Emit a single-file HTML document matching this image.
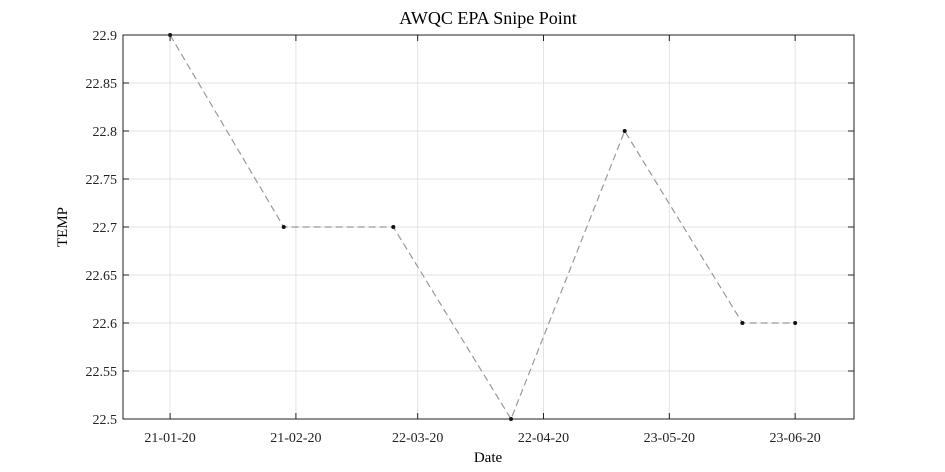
<!DOCTYPE html>
<html><head><meta charset="utf-8"><style>
html,body{margin:0;padding:0;background:#fff;}
svg{display:block;font-family:"Liberation Serif",serif;}
</style></head><body>
<svg id="chart" width="945" height="472">
<rect x="0" y="0" width="945" height="472" fill="#fff"/>
<text x="488" y="24" font-size="18" text-anchor="middle">AWQC EPA Snipe Point</text>
<text x="488" y="462" font-size="15" text-anchor="middle">Date</text>
<text transform="translate(67,227) rotate(-90)" font-size="15" text-anchor="middle">TEMP</text>
<g id="grid"></g><g id="series"></g><g id="axes"></g>
</svg>
<script>
const dates = ["2020-01-21","2020-02-18","2020-03-16","2020-04-14","2020-05-12","2020-06-10","2020-06-23"];
const temps = [22.9, 22.7, 22.7, 22.5, 22.8, 22.6, 22.6];
const xTickDates = ["2020-01-21","2020-02-21","2020-03-22","2020-04-22","2020-05-23","2020-06-23"];
const xTickLabels = ["21-01-20","21-02-20","22-03-20","22-04-20","23-05-20","23-06-20"];
const yTicks = [22.5,22.55,22.6,22.65,22.7,22.75,22.8,22.85,22.9];
const yTickLabels = ["22.5","22.55","22.6","22.65","22.7","22.75","22.8","22.85","22.9"];

const L=123,R=854,T=35,B=419;
const day=86400000, t0=Date.parse("2020-01-21");
const dMin=-11.6, dMax=168.5;
function xs(d){const v=(Date.parse(d)-t0)/day;return L+(v-dMin)/(dMax-dMin)*(R-L);}
function ys(v){return B-(v-22.5)/(0.4)*(B-T);}
const NS="http://www.w3.org/2000/svg";
function mk(tag,attrs,parent){const e=document.createElementNS(NS,tag);for(const k in attrs)e.setAttribute(k,attrs[k]);parent.appendChild(e);return e;}
const grid=document.getElementById('grid'),ser=document.getElementById('series'),ax=document.getElementById('axes');
yTicks.forEach((v,i)=>{
  const y=ys(v);
  const g=mk('line',{x1:L,x2:R,y1:y,y2:y,stroke:'#e3e3e3','stroke-width':1},grid);
  
  
  mk('line',{x1:L,x2:L+6,y1:y,y2:y,stroke:'#222'},ax);
  mk('line',{x1:R,x2:R-6,y1:y,y2:y,stroke:'#222'},ax);
  const t=mk('text',{x:L-6,y:y+5,'font-size':14,'text-anchor':'end',fill:'#222'},ax);
  t.textContent=yTickLabels[i];
  
  
});
xTickDates.forEach((d,i)=>{
  const x=xs(d);
  const g=mk('line',{x1:x,x2:x,y1:T,y2:B,stroke:'#e3e3e3','stroke-width':1},grid);
  
  
  mk('line',{x1:x,x2:x,y1:B,y2:B-6,stroke:'#222'},ax);
  mk('line',{x1:x,x2:x,y1:T,y2:T+6,stroke:'#222'},ax);
  const t=mk('text',{x:x,y:B+23,'font-size':14,'text-anchor':'middle',fill:'#222'},ax);
  t.textContent=xTickLabels[i];
  
  
});
const box=mk('rect',{x:L,y:T,width:R-L,height:B-T,fill:'none',stroke:'#222','stroke-width':1},ax);


const pts=dates.map((d,i)=>xs(d)+','+ys(temps[i])).join(' ');
const line=mk('polyline',{points:pts,fill:'none',stroke:'#999','stroke-width':1.2,'stroke-dasharray':'7,4'},ser);


dates.forEach((d,i)=>{
  const c=mk('circle',{cx:xs(d),cy:ys(temps[i]),r:2,fill:'#111'},ser);
  
  
});
</script>
</body></html>
